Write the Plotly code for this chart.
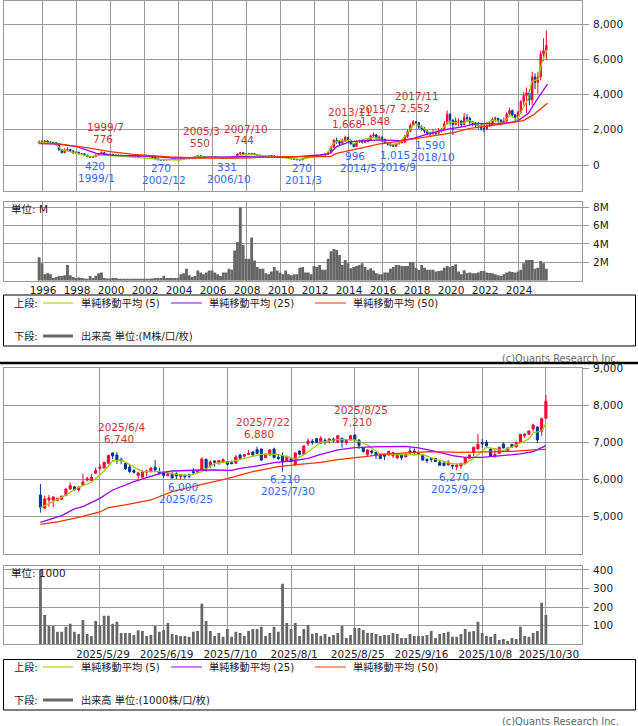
import plotly.graph_objects as go

W, H = 638, 726
FONT = "DejaVu Sans, Noto Sans CJK JP"
UP, DOWN = "#FF0033", "#003399"
GRID = "#999999"
C5, C25, C50 = "#99CC00", "#9900FF", "#FF3300"

# ── long term, one candle every two months from 1995/11 ─────────
lt_open = [1270,
    1290,1330,1360,1300,1290,1270,
    1200,880,700,850,880,800,
    680,720,640,640,560,480,
    440,470,560,640,700,620,
    590,600,570,550,560,540,
    520,530,500,510,520,470,
    480,480,490,470,430,350,
    300,290,290,300,310,340,
    320,320,340,350,370,360,
    380,450,520,470,450,440,
    450,460,440,430,410,390,
    370,400,410,440,620,700,
    620,600,640,650,600,560,
    510,490,500,520,510,500,
    480,460,450,430,400,350,
    330,300,290,360,420,440,
    460,480,490,510,560,620,
    720,1000,1400,1330,1230,1400,
    1570,1380,1200,1050,1330,1370,
    1300,1330,1420,1650,1720,1560,
    1580,1450,1250,1180,1120,1060,
    1200,1270,1290,1600,1900,2250,
    2450,2400,2150,2050,1920,1780,
    1780,1850,1800,1950,2000,2350,
    2880,2550,2300,2500,2500,2300,
    2700,2650,2450,2350,2280,2250,
    2080,2050,2220,2280,2600,2650,
    2550,2350,2500,2900,3100,2850,
    2700,3000,3600,3950,4100,3700,
    5000,4700,5000,6300,6500]
lt_high = [1400,
    1400,1420,1400,1350,1320,1290,
    1200,900,950,1000,900,820,
    780,760,680,660,580,500,
    500,600,680,776,720,640,
    660,640,590,590,580,560,
    560,540,550,550,530,510,
    510,530,520,490,440,360,
    320,310,330,340,380,360,
    350,380,390,410,400,410,
    480,550,530,490,480,480,
    500,480,470,450,430,410,
    430,450,480,660,744,720,
    640,690,700,660,620,570,
    530,540,560,550,530,510,
    490,480,470,440,400,370,
    340,330,400,450,470,490,
    510,520,550,600,670,780,
    1080,1480,1560,1420,1500,1668,
    1600,1430,1250,1400,1450,1420,
    1420,1500,1720,1848,1750,1680,
    1620,1500,1300,1250,1150,1260,
    1300,1350,1700,2000,2350,2552,
    2500,2450,2250,2150,2000,1900,
    2050,1950,2100,2100,2500,3100,
    2950,2600,2700,2650,2550,2950,
    2900,2750,2500,2450,2450,2350,
    2300,2350,2450,2700,2750,2680,
    2600,2700,3000,3250,3150,2900,
    3100,3700,4150,4400,4300,5300,
    5200,5300,6500,7200,7640]
lt_low = [1220,
    1250,1280,1260,1260,1230,1100,
    800,650,680,800,750,640,
    650,620,600,520,440,430,
    420,460,550,620,580,560,
    550,530,510,520,500,490,
    480,460,470,480,430,440,
    440,450,430,380,330,270,
    270,270,280,290,300,300,
    300,310,320,340,330,350,
    370,430,440,420,410,420,
    420,400,390,370,350,331,
    360,380,400,430,600,580,
    540,560,600,560,510,430,
    430,450,480,480,470,450,
    430,420,390,360,320,300,
    280,270,290,360,410,430,
    440,460,480,500,550,610,
    720,1000,1200,1130,1200,1350,
    1300,1150,996,1030,1250,1220,
    1240,1300,1400,1600,1470,1480,
    1300,1200,1100,1060,1015,1040,
    1180,1220,1280,1560,1880,2200,
    2300,2050,1950,1800,1680,1590,
    1700,1700,1780,1850,1990,2300,
    2300,1700,2250,2200,2150,2250,
    2450,2300,2200,2150,2050,1950,
    1850,2000,2150,2250,2450,2400,
    2250,2300,2450,2850,2700,2500,
    2600,2950,3400,2950,3400,3400,
    4300,4050,4800,5900,6000]
lt_close = [1290,
    1330,1360,1300,1290,1270,1200,
    880,700,850,880,800,680,
    720,640,640,560,480,440,
    470,560,640,700,620,590,
    600,570,550,560,540,520,
    530,500,510,520,470,480,
    480,490,470,430,350,300,
    290,290,300,310,340,320,
    320,340,350,370,360,380,
    450,520,470,450,440,450,
    460,440,430,410,390,370,
    400,410,440,620,700,620,
    600,640,650,600,560,510,
    490,500,520,510,500,480,
    460,450,430,400,350,330,
    300,290,360,420,440,460,
    480,490,510,560,620,720,
    1000,1400,1330,1230,1400,1570,
    1380,1200,1050,1330,1370,1300,
    1330,1420,1650,1720,1560,1580,
    1450,1250,1180,1120,1060,1200,
    1270,1290,1600,1900,2250,2450,
    2400,2150,2050,1920,1780,1780,
    1850,1800,1950,2000,2350,2880,
    2550,2300,2500,2500,2300,2700,
    2650,2450,2350,2280,2250,2080,
    2050,2220,2280,2600,2650,2550,
    2350,2500,2900,3100,2850,2700,
    3000,3600,3950,4100,3700,5000,
    4700,5000,6300,6500,6800]
lt_volume = [2.55,
    1.9,0.7,0.8,0.7,0.3,0.4,
    0.5,0.5,0.6,1.7,0.6,0.4,
    0.3,0.35,0.3,0.25,0.2,0.5,
    0.3,0.55,0.8,0.9,0.3,0.25,
    0.25,0.3,0.3,0.2,0.2,0.2,
    0.2,0.2,0.2,0.2,0.2,0.2,
    0.2,0.2,0.2,0.25,0.3,0.3,
    0.3,0.55,0.3,0.3,0.3,0.3,
    0.3,0.7,0.8,1.3,0.6,0.4,
    0.5,1.1,0.9,0.7,0.9,1.1,
    1.1,0.9,0.7,0.5,0.9,0.9,
    1.3,1.2,3.3,4.2,8.0,3.9,
    2.4,2.4,4.7,2.2,1.5,1.3,
    1.3,0.8,0.7,1.0,1.5,1.1,
    0.9,0.7,1.1,0.7,0.6,0.7,
    0.7,1.4,1.5,0.9,0.9,0.7,
    1.6,1.5,1.7,1.2,1.2,2.4,
    3.2,3.45,3.35,2.8,1.7,2.25,
    1.9,1.35,1.5,1.6,1.7,1.9,
    1.5,1.2,1.35,1.1,0.8,0.7,
    0.7,0.9,0.9,1.3,1.5,1.7,
    1.7,1.6,1.6,1.6,2.0,2.0,
    1.4,1.2,1.7,1.4,1.2,1.2,
    1.2,1.0,1.05,1.1,1.4,1.6,
    1.5,1.6,1.8,1.0,0.7,1.15,
    0.8,0.9,0.8,0.8,0.9,1.05,
    1.05,0.9,0.85,0.8,0.7,0.6,
    0.5,0.7,0.9,1.0,0.95,0.9,
    1.0,1.2,1.9,2.25,2.25,2.25,
    1.3,1.4,2.15,1.9,1.3]
lt_years = [1995.83 + i / 6 for i in range(len(lt_close))]

lt_sma5_x = [1995.82,1996.76,1997.16,1997.65,1998.82,1999.51,2000.98,2002.94,2004.12,2005.1,2007.25,2007.75,2008.33,2010.4,2011.18,
    2012.35,2012.75,2013.14,2013.53,2013.82,2014.12,2014.31,2014.8,2015.49,2015.98,2016.57,2017.06,2017.55,2017.94,2018.43,2018.82,
    2019.41,2019.9,2020.2,2020.78,2021.08,2021.76,2022.55,2023.14,2023.53,2023.92,2024.61,2024.8,2025.2,2025.39,2025.69]
lt_sma5 = [1270,1232,853,758,474,569,474,322,284,474,398,569,607,379,322,
    512,626,1232,1422,1327,1460,1194,1422,1574,1460,1138,1270,1896,2370,2086,1801,
    1896,2465,2408,2370,2560,2218,2560,2370,2844,2560,3792,4740,4873,5783,6541]
lt_sma25_x = [1995.82,1996.86,1998.04,1999.2,2000.2,2002.16,2003.73,2005.1,2007.25,2007.84,2010.4,
    2012.35,2012.94,2013.33,2014.12,2014.9,2015.88,2017.06,2017.84,2018.82,2019.8,2020.78,2021.57,2022.75,2023.92,2024.61,2025.1,2025.73]
lt_sma25 = [1232,1194,1043,664,550,512,398,417,436,474,436,
    569,663,1043,1327,1384,1422,1384,1517,1801,2029,2180,2370,2332,2465,2939,3697,4588]
lt_sma50_x = [1995.82,1996.86,1998.63,2000.0,2001.37,2003.53,2005.1,2007.65,2010.4,2012.35,
    2012.94,2013.33,2014.31,2015.1,2015.88,2016.86,2018.04,2019.02,2020.2,2021.18,2021.96,2023.14,2024.31,2024.9,2025.29,2025.73]
lt_sma50 = [1213,1213,986,758,607,455,398,398,474,474,
    474,663,853,1005,1194,1327,1517,1650,1839,2086,2180,2332,2522,2844,3166,3508]

year_ticks = [1996,1998,2000,2002,2004,2006,2008,2010,2012,2014,2016,2018,2020,2022,2024]

# ── daily, 120 sessions up to 2025/10/30 ────────────────────────
d_open = [5577,5218,5443,5443,5434,5461,5560,5740,5794,5713,
    5848,5983,5965,6163,6298,6307,6433,6712,6658,6541,
    6424,6334,6235,6100,6055,6190,6208,6325,6208,6172,
    6100,6136,6154,6073,6109,6118,6208,6190,6253,6541,
    6361,6496,6451,6460,6478,6451,6433,6658,6622,6676,
    6739,6802,6820,6586,6658,6820,6595,6640,6505,6559,
    6388,6766,6676,6964,7027,7099,6973,7054,7036,7090,
    7000,7108,6991,7063,7198,7054,6847,6676,6766,6730,
    6685,6676,6658,6640,6577,6658,6604,6766,6766,6700,
    6640,6541,6568,6559,6460,6442,6388,6379,6334,6361,
    6424,6568,6730,6820,6991,7000,6820,6613,6703,6955,
    6775,6946,6883,7000,7180,7216,7360,7414,7288,7648]
d_high = [5874,5560,5578,5524,5500,5560,5750,5911,5820,5800,
    6154,6073,6145,6316,6406,6470,6676,6730,6730,6586,
    6450,6388,6280,6208,6253,6262,6320,6523,6316,6226,
    6226,6208,6190,6140,6130,6154,6298,6260,6595,6560,
    6514,6510,6520,6568,6490,6505,6658,6694,6680,6793,
    6760,6880,6820,6700,6820,6856,6658,6730,6640,6570,
    6730,6780,6910,7108,7090,7110,7171,7108,7110,7126,
    7190,7130,7070,7200,7210,7090,6860,6810,6802,6745,
    6700,6690,6775,6740,6660,6680,6690,6865,6838,6710,
    6650,6555,6580,6575,6496,6455,6523,6395,6400,6445,
    6590,6670,6880,7225,7090,7063,6835,6838,6880,6991,
    6860,6955,7015,7225,7252,7320,7504,7430,7666,8278]
d_low = [5099,5200,5263,5245,5420,5450,5550,5713,5690,5668,
    5830,5938,5950,6145,6244,6290,6415,6541,6415,6406,
    6253,6172,6154,6010,6040,6073,6190,6226,6130,6046,
    6073,6020,6010,6000,6010,6028,6136,6170,6240,6208,
    6298,6343,6388,6440,6370,6410,6420,6550,6586,6660,
    6640,6680,6496,6570,6640,6570,6523,6210,6490,6460,
    6370,6650,6660,6901,6928,6980,6960,6928,6973,7000,
    6990,6856,6928,7050,7018,6820,6730,6613,6676,6550,
    6545,6523,6640,6577,6541,6523,6590,6658,6640,6680,
    6496,6442,6460,6465,6370,6355,6375,6270,6244,6280,
    6410,6555,6622,6805,6856,6885,6610,6586,6690,6835,
    6760,6860,6838,6985,7108,7205,7288,6982,7171,7630]
d_close = [5243,5470,5497,5524,5488,5542,5740,5830,5713,5794,
    5929,6019,6055,6235,6334,6460,6640,6631,6505,6523,
    6280,6208,6190,6172,6208,6226,6307,6253,6145,6100,
    6154,6037,6091,6109,6073,6082,6172,6244,6550,6298,
    6469,6460,6505,6532,6406,6424,6604,6568,6667,6694,
    6658,6703,6523,6685,6793,6586,6559,6478,6622,6478,
    6712,6676,6901,7036,7000,7000,7108,7018,7090,7036,
    7180,7018,7054,7180,7063,6910,6748,6793,6730,6640,
    6559,6622,6757,6721,6649,6586,6676,6721,6730,6690,
    6523,6505,6541,6478,6379,6370,6469,6361,6388,6433,
    6577,6658,6865,6946,6964,6901,6622,6676,6865,6847,
    6847,6874,7000,7216,7216,7306,7468,7063,7639,8107]
d_volume = [400,158,99,99,67,67,95,110,67,56,
    131,56,45,126,104,153,153,110,121,61,
    61,61,50,76,72,45,50,99,67,77,
    115,56,50,45,45,40,67,72,218,126,
    72,45,61,40,83,40,67,61,45,72,
    83,83,95,45,61,95,67,326,115,83,
    115,45,83,104,56,61,45,56,40,50,
    61,99,34,50,88,88,77,61,61,56,
    45,50,50,61,56,34,34,56,45,45,
    45,50,72,34,56,61,67,40,40,56,
    83,67,72,121,61,45,40,56,23,29,
    18,34,29,94,45,40,61,72,223,158]
d_index = list(range(len(d_close)))

d_sma5_x = [0,5,9,12,15,17,19,22,24,29,31,35,38,41,45,48,52,56,60,62,66,70,74,77,80,86,90,93,97,100,103,105,109,112,115,116,118,119]
d_sma5 = [5234,5513,5784,5919,6225,6495,6522,6342,6207,6207,6144,6099,6207,6432,6477,6567,6676,6676,6550,6658,7000,7081,7063,6928,6685,6658,6676,6540,6423,6414,6658,6865,6775,6928,7090,7252,7306,7513]
d_sma25_x = [0,5,8,10,14,17,22,25,29,31,34,38,41,45,47,51,55,59,63,66,70,74,78,82,86,89,93,97,100,104,109,113,116,119]
d_sma25 = [4838,5018,5198,5261,5486,5712,5937,6045,6189,6225,6243,6252,6252,6243,6297,6360,6450,6495,6567,6676,6793,6856,6874,6892,6892,6847,6757,6640,6595,6595,6640,6685,6748,6910]
d_sma50_x = [0,4,9,14,16,20,26,31,38,44,50,56,61,66,70,75,81,86,92,99,105,111,116,119]
d_sma50 = [4784,4847,4973,5117,5234,5306,5441,5667,5865,6018,6207,6342,6405,6459,6532,6595,6676,6712,6748,6730,6748,6757,6793,6811]

d_ticks = [14,29,44,59,74,89,104,119]
d_tick_labels = ["2025/5/29","2025/6/19","2025/7/10","2025/8/1","2025/8/25","2025/9/16","2025/10/8","2025/10/30"]

assert len(lt_open) == len(lt_high) == len(lt_low) == len(lt_close) == len(lt_volume) == 180
assert len(d_open) == len(d_high) == len(d_low) == len(d_close) == len(d_volume) == 120

# ── labels: text, centre x px, centre y px ──────────────────────
red_labels = [
    ("1999/7",105.5,127),("776",103,139),("2005/3",201,131),("550",200,143),
    ("2007/10",246,128.5),("744",244,140),("2013/11",350,112),("1,668",347,124),
    ("2015/7",377,108.5),("1,848",375,121),("2017/11",417,96),("2,552",415,108),
    ("2025/6/4",121,427),("6,740",119,439),("2025/7/22",263,422),("6,880",259,434),
    ("2025/8/25",361,410),("7,210",357,422),
]
blue_labels = [
    ("420",95,166),("1999/1",96,178),("270",161,168),("2002/12",164,180),
    ("331",227,167),("2006/10",229,179),("270",302,168),("2011/3",303,180),
    ("996",355,156),("2014/5",358,168),("1,015",395,155),("2016/9",397,167),
    ("1,590",430,145),("2018/10",433,157),
    ("6,000",183,487),("2025/6/25",186,499),("6,210",285,479),("2025/7/30",288,491),
    ("6,270",454,477),("2025/9/29",458,489),
]


def px(x):
    return x / W


def py(y):
    return 1 - y / H


def candles(x, o, h, l, c, xa, ya):
    return go.Candlestick(
        x=x, open=o, high=h, low=l, close=c, xaxis=xa, yaxis=ya,
        increasing=dict(line=dict(color=UP, width=1), fillcolor=UP),
        decreasing=dict(line=dict(color=DOWN, width=1), fillcolor=DOWN),
        whiskerwidth=0,
    )


def sma(x, y, color, xa, ya):
    return go.Scatter(x=x, y=y, mode="lines", line=dict(color=color, width=1.3), xaxis=xa, yaxis=ya, hoverinfo="skip")


fig = go.Figure()

# ── 上段 (long term) ────────────────────────────────────────────
fig.add_trace(candles(lt_years, lt_open, lt_high, lt_low, lt_close, "x", "y"))
fig.add_trace(sma(lt_sma5_x, lt_sma5, C5, "x", "y"))
fig.add_trace(sma(lt_sma25_x, lt_sma25, C25, "x", "y"))
fig.add_trace(sma(lt_sma50_x, lt_sma50, C50, "x", "y"))
fig.add_trace(go.Bar(x=lt_years, y=lt_volume, marker=dict(color="#666666", line_width=0), width=1 / 6, xaxis="x2", yaxis="y2"))

# ── 下段 (daily) ────────────────────────────────────────────────
fig.add_trace(candles(d_index, d_open, d_high, d_low, d_close, "x3", "y3"))
fig.add_trace(sma(d_sma5_x, d_sma5, C5, "x3", "y3"))
fig.add_trace(sma(d_sma25_x, d_sma25, C25, "x3", "y3"))
fig.add_trace(sma(d_sma50_x, d_sma50, C50, "x3", "y3"))
fig.add_trace(go.Bar(x=d_index, y=d_volume, marker=dict(color="#666666", line_width=0), width=0.65, xaxis="x4", yaxis="y4"))

tick_font = dict(family=FONT, size=10.5, color="#222222")
x_dom = [px(3.5), px(582)]
lt_range = [1993.735, 2027.76]
d_range = [-8.7, 127.5]


def x_axis(rng, vals, anchor, labels=None, shift=0):
    ax = dict(
        domain=x_dom, range=rng, anchor=anchor, tickmode="array", tickvals=vals, automargin=False,
        showgrid=True, gridcolor=GRID, gridwidth=1, showline=True, linecolor=GRID, linewidth=1, mirror=True,
        zeroline=False, ticks="", rangeslider=dict(visible=False), tickfont=tick_font,
    )
    if labels is None:
        ax["showticklabels"] = False
    else:
        ax["ticktext"] = labels
        ax["ticklabelshift"] = shift
    return ax


def y_axis(top, bottom, rng, vals, anchor, labels=None):
    ax = dict(
        domain=[py(bottom), py(top)], range=rng, anchor=anchor, side="right", tickmode="array", tickvals=vals,
        automargin=False, ticklabelstandoff=2,
        showgrid=True, gridcolor=GRID, gridwidth=1, showline=True, linecolor=GRID, linewidth=1, mirror=True,
        zeroline=False, ticks="outside", ticklen=6, tickcolor=GRID, tickfont=tick_font,
    )
    if labels is not None:
        ax["ticktext"] = labels
    return ax


shapes = []
annotations = []


def text(s, x, y, color="#222222", anchor="center", size=10.5):
    annotations.append(dict(
        text=s, x=px(x), y=py(y), xref="paper", yref="paper", xanchor=anchor, yanchor="middle",
        showarrow=False, font=dict(family=FONT, size=size, color=color),
    ))


def line(x0, y0, x1, y1, color, width=1):
    shapes.append(dict(type="line", xref="paper", yref="paper", x0=px(x0), y0=py(y0), x1=px(x1), y1=py(y1),
                       line=dict(color=color, width=width)))


def legend_box(top, bottom, y1, y2, vol_text):
    shapes.append(dict(type="rect", xref="paper", yref="paper", x0=px(3.5), x1=px(635.5), y0=py(bottom), y1=py(top),
                       line=dict(color="#000000", width=1), fillcolor="rgba(0,0,0,0)"))
    text("上段:", 12, y1, anchor="left", size=10.2)
    line(43, y1, 73, y1, C5)
    text("単純移動平均 (5)", 79, y1, anchor="left", size=10.2)
    line(171, y1, 202, y1, C25)
    text("単純移動平均 (25)", 207, y1, anchor="left", size=10.2)
    line(315, y1, 346, y1, C50)
    text("単純移動平均 (50)", 351, y1, anchor="left", size=10.2)
    text("下段:", 12, y2, anchor="left", size=10.2)
    line(43, y2, 73, y2, "#666666", 3)
    text(vol_text, 79, y2, anchor="left", size=10.2)


for s, x, y in red_labels:
    text(s, x, y, "#CC3333")
for s, x, y in blue_labels:
    text(s, x, y, "#3366FF")

legend_box(295, 346, 303, 336, "出来高 単位:(M株/口/枚)")
legend_box(659.5, 710, 667, 700, "出来高 単位:(1000株/口/枚)")
line(0, 363, W, 363, "#000000", 2.5)
text("単位: M", 8.7, 209, anchor="left")
text("単位: 1000", 8.7, 573, anchor="left")
text("(c)Quants Research Inc.", 500, 358, "#666666", "left", 9.8)
text("(c)Quants Research Inc.", 500, 721, "#666666", "left", 9.8)

fig.update_layout(
    width=W, height=H, margin=dict(l=0, r=0, t=0, b=0, pad=0, autoexpand=False), autosize=False,
    paper_bgcolor="white", plot_bgcolor="white", showlegend=False, hovermode=False,
    font=dict(family=FONT),
    xaxis=x_axis(lt_range, year_ticks, "y"),
    yaxis=y_axis(0.5, 190.5, [-1449, 9346], [0,2000,4000,6000,8000], "x", ["0","2,000","4,000","6,000","8,000"]),
    xaxis2=x_axis(lt_range, year_ticks, "y2", [str(t) for t in year_ticks], 1),
    yaxis2=y_axis(201.7, 280.7, [0, 8.6], [2,4,6,8], "x2", ["2M","4M","6M","8M"]),
    xaxis3=x_axis(d_range, d_ticks, "y3"),
    yaxis3=y_axis(368.3, 554.3, [3973, 9000], [5000,6000,7000,8000,9000], "x3", ["5,000","6,000","7,000","8,000","9,000"]),
    xaxis4=x_axis(d_range, d_ticks, "y4", d_tick_labels, 3),
    yaxis4=y_axis(565.7, 644.3, [0, 423], [100,200,300,400], "x4", ["100","200","300","400"]),
    shapes=shapes, annotations=annotations,
)

fig.write_html("out.html", config=dict(displayModeBar=False), post_script="document.body.style.margin='0';")
